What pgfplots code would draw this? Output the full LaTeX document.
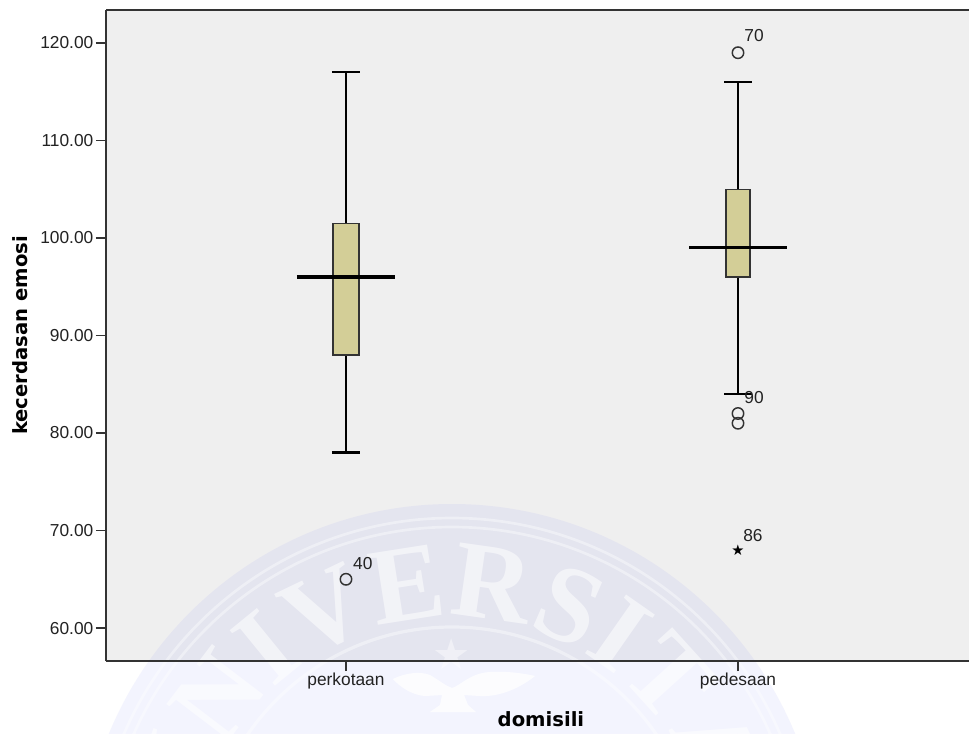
\documentclass[border=0pt]{standalone}
\usepackage{fontspec}
\setmainfont{Liberation Sans}
\newfontfamily\wmfont{Liberation Serif}
\newfontfamily\djv{DejaVu Sans}
\usepackage{pgfplots}
\pgfplotsset{compat=1.18}
\usetikzlibrary{decorations.text,plotmarks}
\definecolor{panel}{HTML}{EFEFEF}
\definecolor{boxfill}{HTML}{D3CE97}
\definecolor{axc}{HTML}{333333}
\definecolor{txt}{HTML}{222222}
\definecolor{wm}{HTML}{272DEF}
\begin{document}
\begin{tikzpicture}
\useasboundingbox (0,0) rectangle (726.75pt,549.75pt);
\begin{scope}[x=0.75pt,y=0.75pt]
\fill[white] (0,0) rectangle (969,733);
\fill[panel] (106,72) rectangle (969,723);
% watermark (pixel coordinates, y from the bottom)
\clip (0,0) rectangle (969,733);
\fill[wm,opacity=0.05] (452,-142) circle[radius=371];
\draw[white,opacity=0.4,line width=2pt] (452,-142) circle[radius=357];
\draw[white,opacity=0.4,line width=2pt] (452,-142) circle[radius=348];
\draw[white,opacity=0.4,line width=2.4pt] (452,-142) circle[radius=248];
\begin{scope}[transparency group,opacity=0.55]
\path[postaction={decorate,decoration={text along path,text align=center,
   text={|\wmfont\bfseries\fontsize{82pt}{82pt}\selectfont\color{white}|UNIVERSITAS}}}]
   (452,-142) ++(200:258) arc[start angle=200,end angle=-28,radius=258];
\end{scope}
\node[white,opacity=0.45,font=\djv\fontsize{32pt}{32pt}\selectfont] at (452,79) {★};
\fill[white,opacity=0.8] (393,54) .. controls (405,60) and (420,62) .. (430,58) .. controls (440,52) and (446,47) .. (452,45)
   .. controls (460,47) and (470,60) .. (490,61) .. controls (505,62) and (522,60) .. (535,57)
   .. controls (520,45) and (500,36) .. (480,37) -- (464,38) -- (468,28) -- (476,21) -- (430,21) -- (440,28) -- (442,38) -- (425,37)
   .. controls (412,38) and (400,46) .. (393,54) -- cycle;
\end{scope}
\begin{axis}[
  at={(79.5pt,54pt)},anchor=south west,
  scale only axis,width=647.25pt,height=488.25pt,
  xmin=-0.6122,xmax=1.5893,ymin=56.62,ymax=123.38,
  axis line style={axc,line width=1.1pt},
  axis x line*=box,axis y line*=left,
  xtick pos=bottom,
  xtick={0,1},xticklabels={perkotaan,pedesaan},
  ytick={60,70,80,90,100,110,120},
  yticklabel style={/pgf/number format/.cd,fixed,fixed zerofill,precision=2,assume math mode=true},
  tick align=outside,
  major tick length=7.5pt,
  tick style={axc,line width=1.1pt},
  ticklabel style={font=\fontsize{13pt}{13pt}\selectfont,text=txt},
  yticklabel shift={-1.5pt},
  xticklabel shift={-2pt},
  xlabel={\djv\bfseries domisili},
  ylabel={\djv\bfseries kecerdasan emosi},
  label style={font=\fontsize{14.7pt}{14.7pt}\selectfont,text=black},
  xlabel style={at={(axis description cs:0.504,0)},anchor=base,yshift=-49pt},
  ylabel style={at={(axis description cs:-0.0997,0.5)},anchor=center},
]
% whiskers and caps
\addplot[black,line width=1.6pt] coordinates {(0,78) (0,117)};
\addplot[black,line width=1.6pt] coordinates {(-0.0357,78) (0.0357,78)};
\addplot[black,line width=1.6pt] coordinates {(-0.0357,117) (0.0357,117)};
\addplot[black,line width=1.6pt] coordinates {(1,84) (1,116)};
\addplot[black,line width=1.6pt] coordinates {(0.9643,84) (1.0357,84)};
\addplot[black,line width=1.6pt] coordinates {(0.9643,116) (1.0357,116)};
% boxes
\addplot[axc,line width=1pt,fill=boxfill] coordinates {(-0.033,88) (0.033,88) (0.033,101.5) (-0.033,101.5)} -- cycle;
\addplot[axc,line width=1pt,fill=boxfill] coordinates {(0.969,96) (1.031,96) (1.031,105) (0.969,105)} -- cycle;
% medians
\addplot[black,line width=2.4pt] coordinates {(-0.125,96) (0.125,96)};
\addplot[black,line width=2.4pt] coordinates {(0.875,99) (1.125,99)};
% outliers
\addplot[only marks,mark=o,mark size=4.3pt,mark options={axc,line width=1.1pt}] coordinates {(0,65) (1,119) (1,82) (1,81)};
\addplot[only marks,mark=text,text mark={\djv\fontsize{11pt}{11pt}\selectfont ★},mark options={black}] coordinates {(1,68)};
\node[font=\fontsize{13pt}{13pt}\selectfont,text=txt] at (axis cs:1.041,120.8) {70};
\node[font=\fontsize{13pt}{13pt}\selectfont,text=txt] at (axis cs:1.041,83.6) {90};
\node[font=\fontsize{13pt}{13pt}\selectfont,text=txt] at (axis cs:1.038,69.5) {86};
\node[font=\fontsize{13pt}{13pt}\selectfont,text=txt] at (axis cs:0.043,66.6) {40};
\end{axis}
\end{tikzpicture}
\end{document}
